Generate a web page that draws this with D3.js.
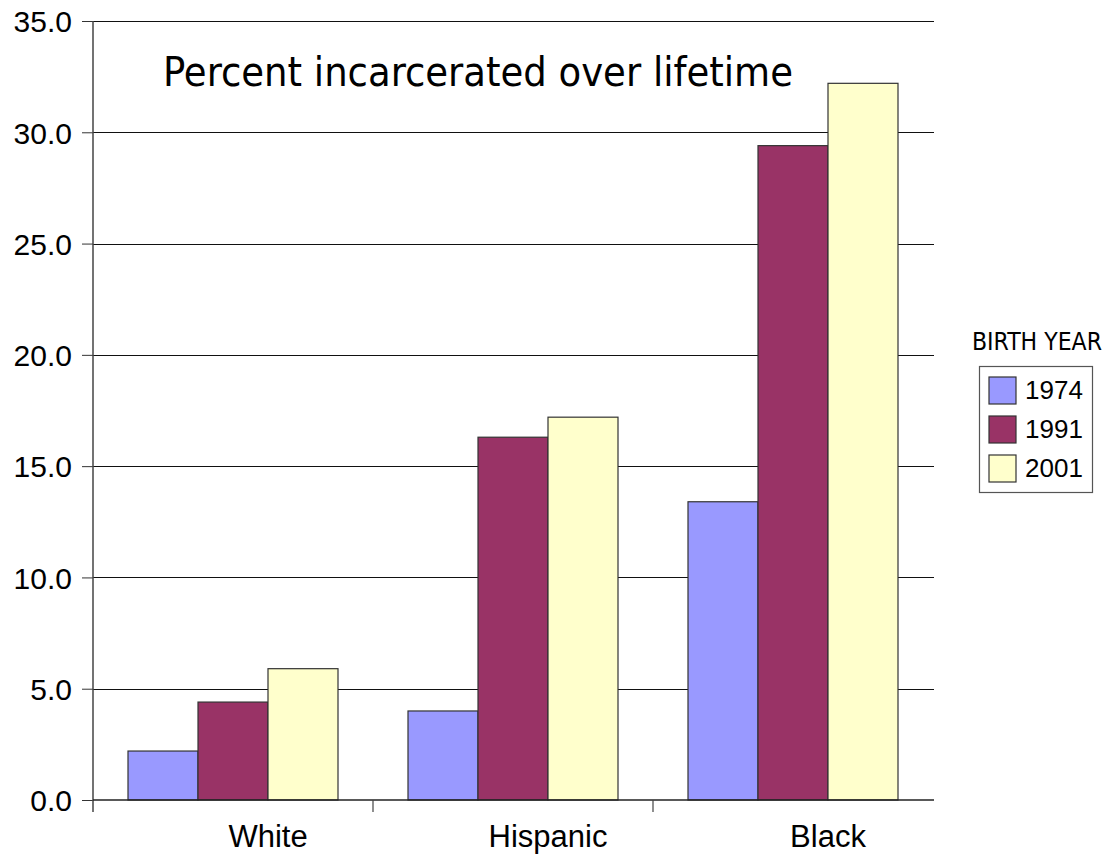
<!DOCTYPE html>
<html><head><meta charset="utf-8">
<script src="https://cdn.jsdelivr.net/npm/d3@7"></script>
<style>body{margin:0;background:#fff}svg{display:block}</style>
</head><body>
<svg id="c" width="1107" height="855"></svg>
<script>
const categories = ["White", "Hispanic", "Black"];
const seriesNames = ["1974", "1991", "2001"];
const values1974 = [2.2, 4.0, 13.4];
const values1991 = [4.4, 16.3, 29.4];
const values2001 = [5.9, 17.2, 32.2];
const yTicks = [0, 5, 10, 15, 20, 25, 30, 35];
const colors = ["#9999FF", "#993366", "#FFFFCC"];
const title = "Percent incarcerated over lifetime";
const legendTitle = "BIRTH YEAR";

const series = [values1974, values1991, values2001];
const svg = d3.select("#c");
const L = 93, R = 933, T = 21, B = 800;

const x0 = d3.scaleBand().domain(categories).range([L, R]).paddingInner(0.25).paddingOuter(0.125);
const x1 = d3.scaleBand().domain(seriesNames).range([0, x0.bandwidth()]);
const y = d3.scaleLinear().domain([0, 35]).range([B, T]);
const step = x0.step();

// gridlines
svg.append("g").selectAll("line").data(yTicks.filter(d => d > 0)).join("line")
  .attr("x1", L).attr("x2", R + 1).attr("y1", d => Math.round(y(d)) + 0.5).attr("y2", d => Math.round(y(d)) + 0.5)
  .attr("stroke", "#111").attr("stroke-width", 1);

// bars
const g = svg.append("g");
categories.forEach((c, i) => {
  seriesNames.forEach((s, j) => {
    g.append("rect")
      .attr("x", x0(c) + x1(s))
      .attr("y", y(series[j][i]))
      .attr("width", x1.bandwidth())
      .attr("height", y(0) - y(series[j][i]))
      .attr("fill", colors[j])
      .attr("stroke", "#333").attr("stroke-width", 1.2);
  });
});

// y axis
const yAxis = svg.append("g").attr("transform", `translate(${L},0)`)
  .call(d3.axisLeft(y).tickValues(yTicks).tickFormat(d3.format(".1f")).tickSize(11).tickPadding(10));
yAxis.select(".domain").remove();
yAxis.selectAll(".tick line").attr("stroke", "#333");
yAxis.selectAll("text").attr("font-family", "Liberation Sans, Arial, sans-serif").attr("font-size", 30).attr("fill", "#000").attr("dy", "0.36em");
svg.append("line").attr("x1", L).attr("x2", L).attr("y1", T).attr("y2", B + 12).attr("stroke", "#444").attr("stroke-width", 1.5);

// x axis
svg.append("line").attr("x1", L).attr("x2", R + 1).attr("y1", B).attr("y2", B).attr("stroke", "#222").attr("stroke-width", 1.5);
svg.append("g").selectAll("line").data(categories.slice(1)).join("line")
  .attr("x1", d => x0(d) - step * 0.125).attr("x2", d => x0(d) - step * 0.125)
  .attr("y1", B).attr("y2", B + 12).attr("stroke", "#444").attr("stroke-width", 1.2);
svg.append("g").selectAll("text").data(categories).join("text")
  .attr("x", d => x0(d) + x0.bandwidth() / 2 + step / 8)
  .attr("y", 847)
  .attr("text-anchor", "middle")
  .attr("font-family", "Liberation Sans, Arial, sans-serif").attr("font-size", 31)
  .text(d => d);

// title
const t = svg.append("text").attr("x", 163).attr("y", 86)
  .attr("font-family", "DejaVu Sans Condensed, DejaVu Sans, sans-serif").attr("font-size", 40)
  .text(title);
(function fit(el, w){ const n = el.node(); const l = n.getComputedTextLength(); const fs = +el.attr("font-size"); el.attr("font-size", fs * w / l); })(t, 630);

// legend
const lt = svg.append("text").attr("x", 972).attr("y", 350)
  .attr("font-family", "DejaVu Sans Condensed, DejaVu Sans, sans-serif").attr("font-size", 20)
  .text(legendTitle);
(function fit(el, w){ const n = el.node(); const l = n.getComputedTextLength(); const fs = +el.attr("font-size"); el.attr("font-size", fs * w / l); })(lt, 130);

svg.append("rect").attr("x", 979.5).attr("y", 366.5).attr("width", 113).attr("height", 126)
  .attr("fill", "#fff").attr("stroke", "#555").attr("stroke-width", 1.2);
const lg = svg.append("g").selectAll("g").data(seriesNames).join("g")
  .attr("transform", (d, i) => `translate(989,${377 + i * 39})`);
lg.append("rect").attr("width", 27).attr("height", 27).attr("fill", (d, i) => colors[i]).attr("stroke", "#333").attr("stroke-width", 1.2);
lg.append("text").attr("x", 36).attr("y", 22).attr("font-family", "Liberation Sans, Arial, sans-serif").attr("font-size", 26).text(d => d);
</script>
</body></html>
